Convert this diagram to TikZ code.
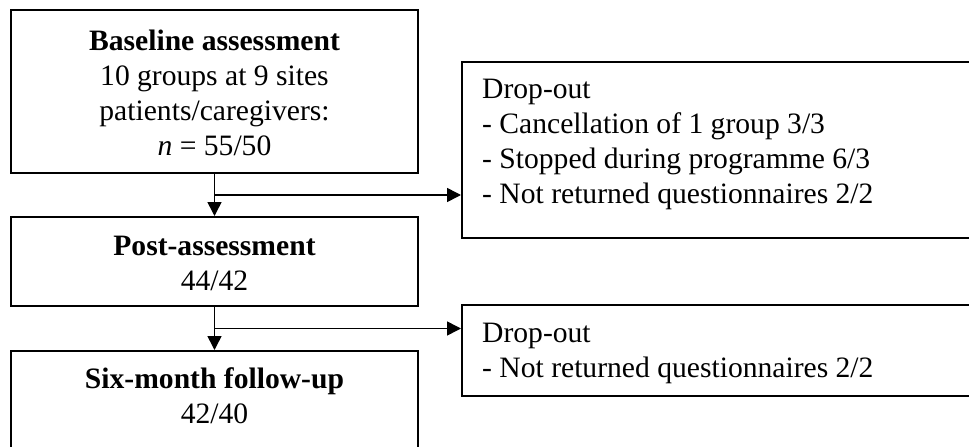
\documentclass[tikz,border=0pt]{standalone}
\usepackage{fontspec}
\setmainfont{Liberation Serif}
\usetikzlibrary{arrows.meta,calc}
\begin{document}
\begin{tikzpicture}[x=1pt,y=-1pt,
  box/.style={draw,line width=2pt,inner sep=0pt,rectangle},
  txt/.style={font=\fontsize{29.6}{35}\selectfont,inner sep=0pt,align=center,anchor=north},
  droptxt/.style={font=\fontsize{29.6}{35}\selectfont,inner sep=0pt,align=left,anchor=north west},
  arr/.style={line width=1.6pt,-{Triangle[length=14pt,width=14pt]}}]
\useasboundingbox (0,0) rectangle (969,447);
\clip (0,0) rectangle (969,447);
\fill[white] (0,0) rectangle (969,447);
% left column boxes
\node[box,minimum width=407pt,minimum height=163pt] (b1) at (214.5,91.5) {};
\node[box,minimum width=407pt,minimum height=89pt] (b2) at (214.5,261.5) {};
\node[box,minimum width=407pt,minimum height=129pt] (b3) at (214.5,415.5) {};
% drop-out boxes
\node[box,minimum width=548pt,minimum height=176pt] (d1) at (736,150) {};
\node[box,minimum width=548pt,minimum height=91pt] (d2) at (736,350.5) {};
% texts
\node[txt] (t1) at (214.5,25.5) {\strut\textbf{Baseline assessment}\\10 groups at 9 sites\\patients/caregivers:\\\textit{n} = 55/50};
\node[txt] (t2) at (214.5,230.5) {\strut\textbf{Post-assessment}\\44/42};
\node[txt] (t3) at (214.5,363.5) {\strut\textbf{Six-month follow-up}\\42/40};
\node[droptxt] (e1) at (482,73.5) {\strut Drop-out\\- Cancellation of 1 group 3/3\\- Stopped during programme 6/3\\- Not returned questionnaires 2/2};
\node[droptxt] (e2) at (482,317.5) {\strut Drop-out\\- Not returned questionnaires 2/2};
% connectors
\coordinate (j1) at ($(b1.south)!0.5!(b2.north)$);
\coordinate (j2) at ($(b2.south)!0.5!(b3.north)$);
\draw[arr] (b1.south) -- (b2.north);
\draw[arr] (j1) -- (j1 -| d1.west);
\draw[arr] (b2.south) -- (b3.north);
\draw[arr] (j2) -- (j2 -| d2.west);
\end{tikzpicture}
\end{document}
